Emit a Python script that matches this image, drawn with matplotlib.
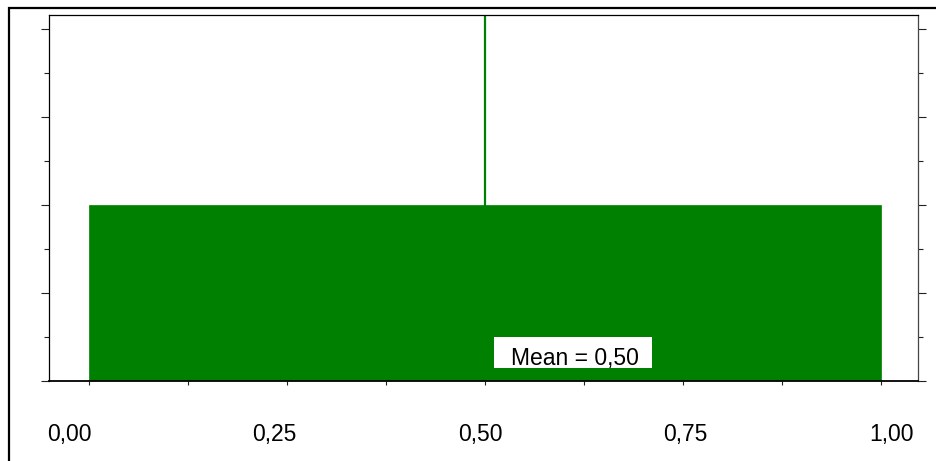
import matplotlib
matplotlib.use("Agg")
import matplotlib.pyplot as plt
from matplotlib.patches import Rectangle
from matplotlib.ticker import MultipleLocator
import numpy as np

# ---- data ----
bin_edges = [0.0, 1.0]
bin_heights = [1.0]
mean_value = 0.50
xtick_values = [0.00, 0.25, 0.50, 0.75, 1.00]
xtick_labels = ["0,00", "0,25", "0,50", "0,75", "1,00"]

GREEN = "#008000"
plt.rcParams['font.family'] = ['Liberation Sans Narrow', 'Liberation Sans', 'DejaVu Sans']

W, H = 936, 461
fig = plt.figure(figsize=(W / 100, H / 100), dpi=100)
fig.patch.set_facecolor("white")

# axes box in pixels: left 49, right 918, top 15, bottom 381
L, R, T, B = 49, 918, 15, 381
ax = fig.add_axes([L / W, (H - B) / H, (R - L) / W, (B - T) / H])

# outer border (left and top visible)
fig.add_artist(Rectangle((9 / W, -0.2), 1.5, (H - 8) / H + 0.2, transform=fig.transFigure,
                         fill=False, lw=1.6, edgecolor="black", clip_on=False))

# histogram bar
edges = np.array(bin_edges)
ax.bar(edges[:-1], bin_heights, width=np.diff(edges), align="edge",
       color=GREEN, edgecolor=GREEN, linewidth=0.5, zorder=2)

# mean line
ax.axvline(mean_value, ymin=0, ymax=1, color=GREEN, lw=1.6, zorder=1.5)

# limits: x 0 at px 89, 1 at px 881 ; y 0 at px 381, 176 px per unit
px_per_x = 881 - 89
ax.set_xlim((L - 89) / px_per_x, (R - 89) / px_per_x)
ax.set_ylim(0, (B - T) / 176)

# y ticks on both sides, outside, no labels
ax.yaxis.set_major_locator(MultipleLocator(0.5))
ax.yaxis.set_minor_locator(MultipleLocator(0.25))
ax.tick_params(axis="y", which="major", direction="out", length=5.8, width=0.8,
               left=True, right=True, labelleft=False, labelright=False, color="#222222")
ax.tick_params(axis="y", which="minor", direction="out", length=3.6, width=0.8,
               left=True, right=True, color="#222222")

# x tick marks every 0.125, no labels on main axis
ax.xaxis.set_major_locator(MultipleLocator(0.125))
ax.tick_params(axis="x", which="major", direction="out", length=2.6, width=0.8,
               labelbottom=False, color="#222222")

for side in ["left", "top"]:
    ax.spines[side].set_color("black")
    ax.spines[side].set_linewidth(0.9)
ax.spines["right"].set_color("#444444")
ax.spines["right"].set_linewidth(0.9)
ax.spines["bottom"].set_color("black")
ax.spines["bottom"].set_linewidth(1.3)
ax.spines["bottom"].set_zorder(3)

# tick labels (placed on a twin axis as in the original rendering)
ax2 = ax.twiny()
lab_px = 891 - 69
ax2.set_xlim((L - 69) / lab_px, (R - 69) / lab_px)
ax2.xaxis.set_ticks_position("bottom")
ax2.set_xticks(xtick_values)
ax2.set_xticklabels(xtick_labels, fontsize=16.5)
ax2.tick_params(axis="x", length=0, pad=30.5)
for s in ax2.spines.values():
    s.set_visible(False)

# mean label
ax.add_patch(Rectangle(((494 - L) / (R - L), (B - 368) / (B - T)),
                       (652 - 494) / (R - L), (368 - 337) / (B - T),
                       transform=ax.transAxes, facecolor="white", edgecolor="none", zorder=4))
ax.text((574.5 - L) / (R - L), (B - 364.5) / (B - T),
        "Mean = " + f"{mean_value:.2f}".replace(".", ","),
        transform=ax.transAxes, ha="center", va="baseline", fontsize=16.5, color="black", zorder=5)

fig.savefig("out.png", dpi=100, facecolor="white")
